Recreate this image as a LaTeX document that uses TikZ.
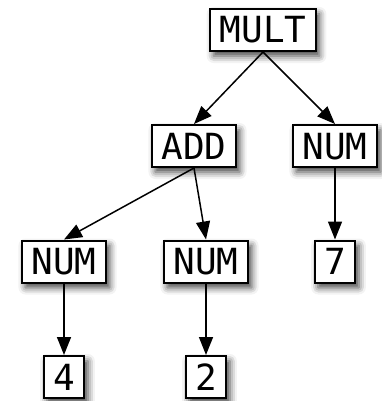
\documentclass[tikz,border=0pt]{standalone}
\usepackage{fontspec}
\setmonofont{DejaVu Sans Mono}
\usetikzlibrary{arrows.meta,shadows.blur}
\begin{document}
\begin{tikzpicture}[x=1pt,y=-1pt,
  treenode/.style={draw, line width=2pt, fill=white,
    font=\ttfamily\fontsize{36}{36}\selectfont,
    inner xsep=9.5pt, inner ysep=0pt, text height=26pt, text depth=0pt,
    minimum height=42pt,
    blur shadow={shadow xshift=3.5pt, shadow yshift=-5pt,
      shadow blur radius=7pt, shadow opacity=75}},
  link/.style={line width=1.5pt, -{Triangle[length=18pt,width=14pt]}}]
  \useasboundingbox (0,0) rectangle (381,401);
  % tree nodes
  \node[treenode] (mult) at (263,30)   {MULT};
  \node[treenode] (add)  at (194,146)  {ADD};
  \node[treenode] (numr) at (335,146)  {NUM};
  \node[treenode] (numl) at (64,261.5) {NUM};
  \node[treenode] (numm) at (206,261.5) {NUM};
  \node[treenode] (seven) at (335,261.5) {7};
  \node[treenode] (four) at (64,377) {4};
  \node[treenode] (two)  at (206,377)  {2};
  % edges
  \draw[link] (mult.south) -- (add.north);
  \draw[link] (mult.south) -- (numr.north);
  \draw[link] (add.south) -- (numl.north);
  \draw[link] (add.south) -- (numm.north);
  \draw[link] (numr.south) -- (seven.north);
  \draw[link] (numl.south) -- (four.north);
  \draw[link] (numm.south) -- (two.north);
\end{tikzpicture}
\end{document}
